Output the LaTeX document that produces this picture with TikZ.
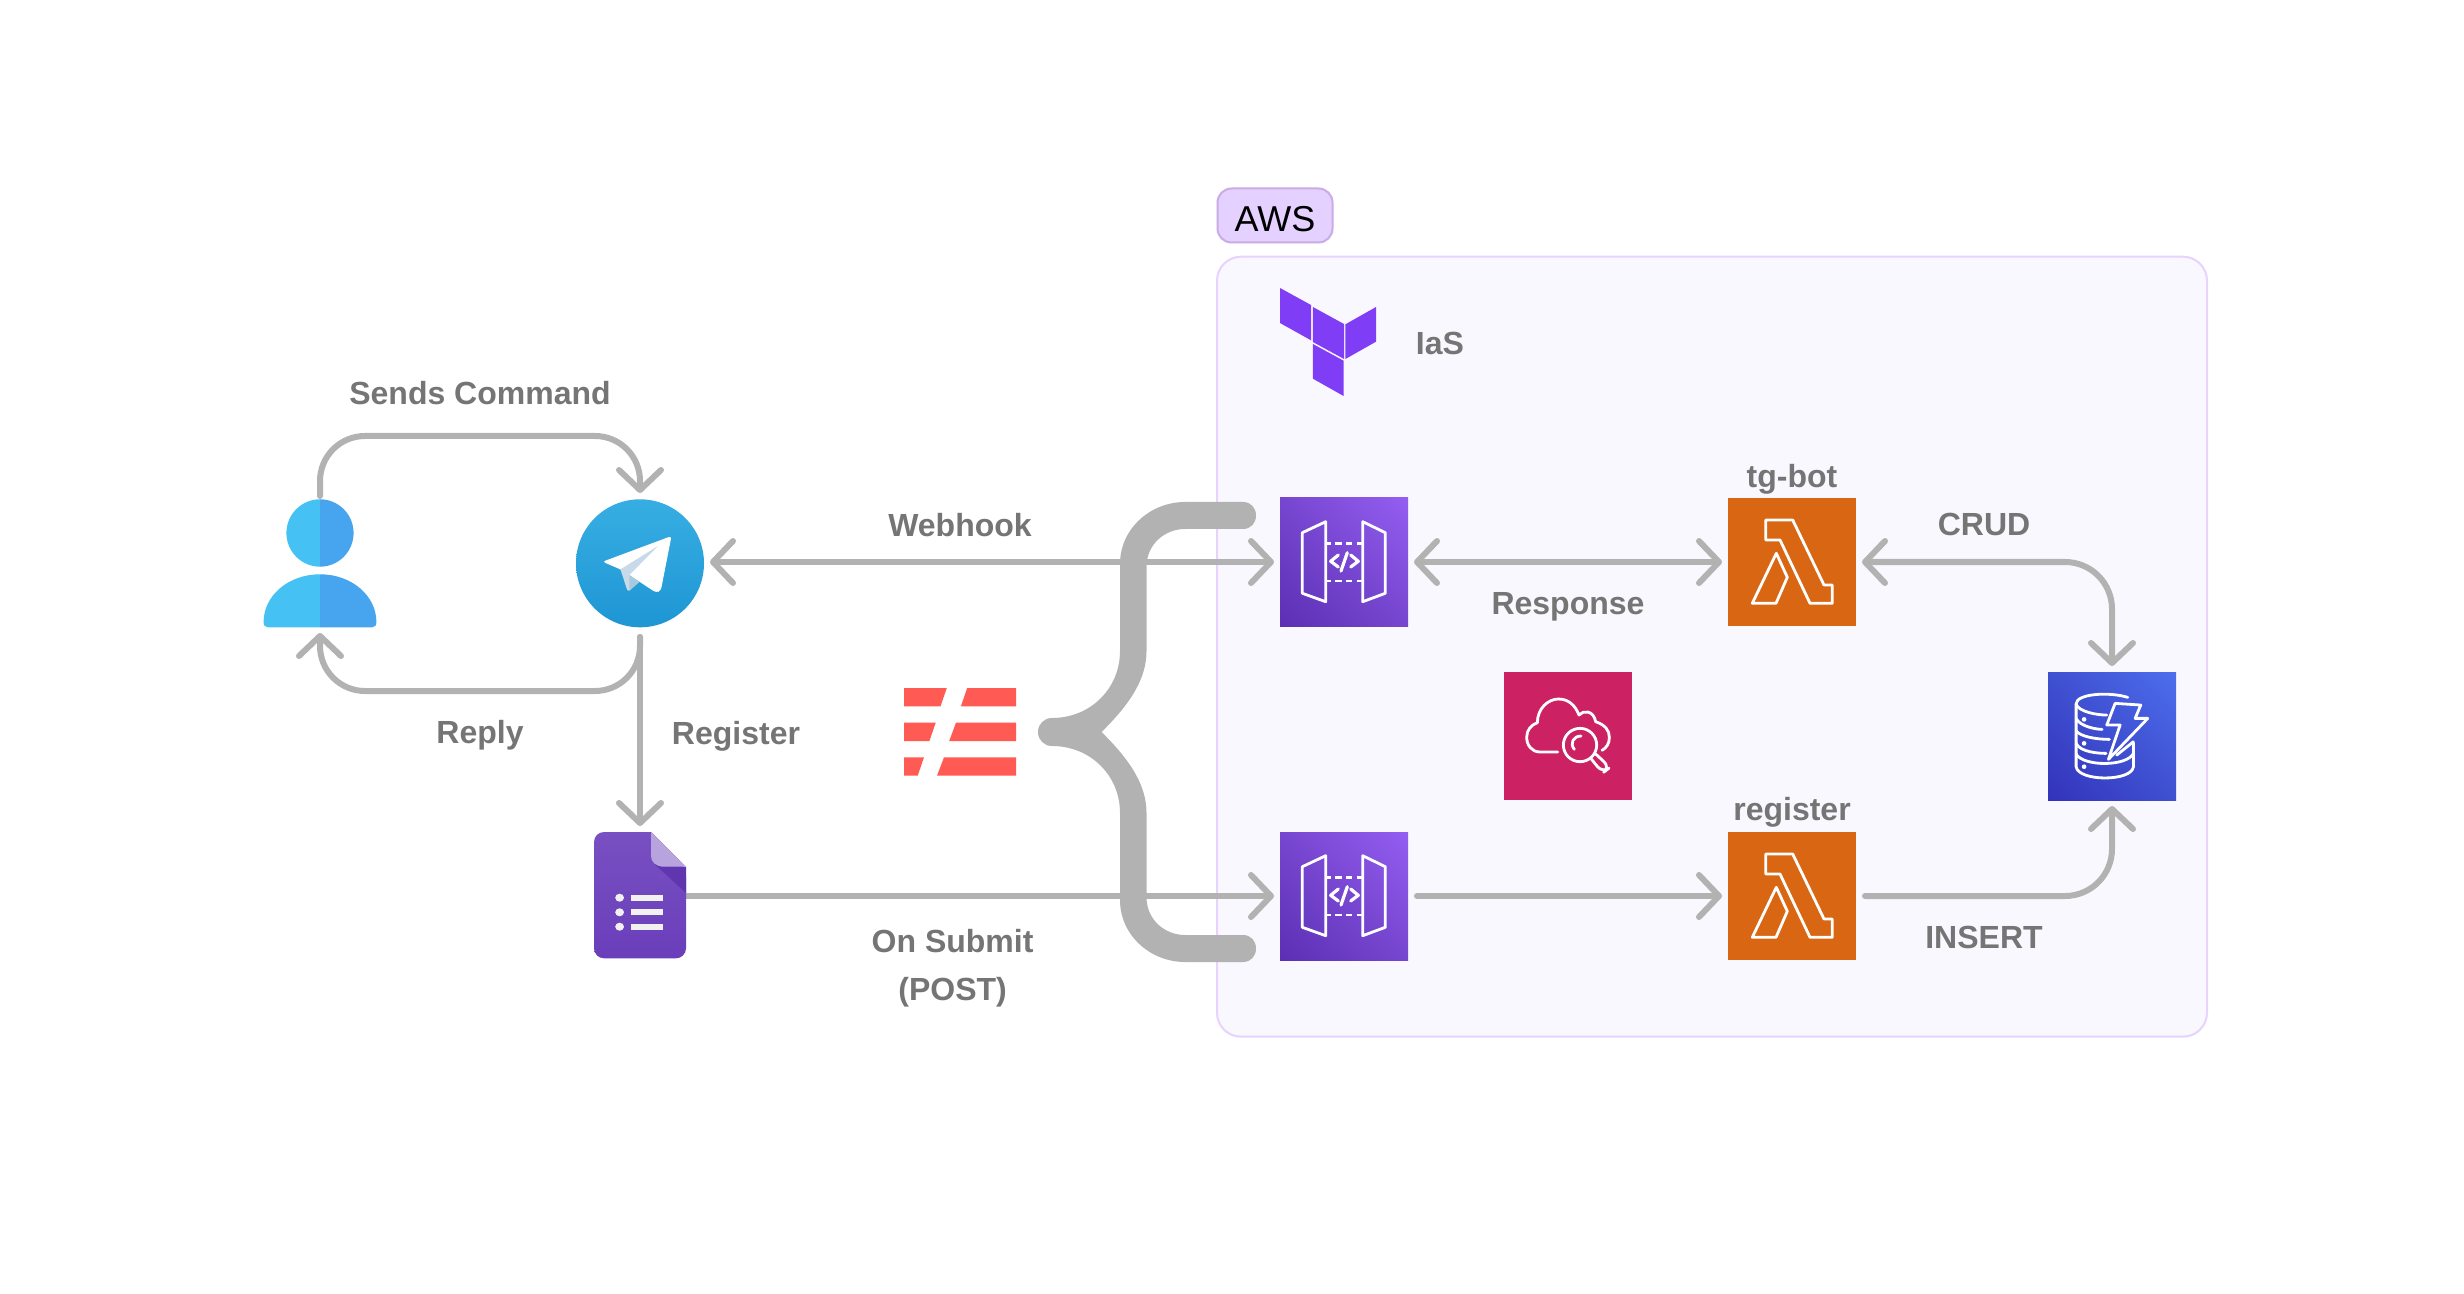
\documentclass[tikz,border=0pt]{standalone}
\usepackage{fontspec}
\setmainfont{Liberation Sans}
\usetikzlibrary{arrows.meta,shadings}
\definecolor{connc}{HTML}{B2B2B2}
\definecolor{lblc}{HTML}{757575}
\definecolor{tfc}{HTML}{7F3DF5}
\definecolor{awsfill}{HTML}{FAF8FF}
\definecolor{awsedge}{HTML}{E8D3FF}
\definecolor{tagfill}{HTML}{E5D1FF}
\definecolor{tagedge}{HTML}{C9ABE6}
\definecolor{gwdark}{HTML}{5B2FB4}
\definecolor{gwmid}{HTML}{7746CF}
\definecolor{gwlight}{HTML}{945EF2}
\definecolor{dydark}{HTML}{3333BB}
\definecolor{dymid}{HTML}{3F50D0}
\definecolor{dylight}{HTML}{4C6EEE}
\definecolor{lamc}{HTML}{D86613}
\definecolor{cwc}{HTML}{CC2264}
\definecolor{redp}{HTML}{FF5A54}
\definecolor{personl}{HTML}{45C1F4}
\definecolor{personr}{HTML}{47A4EE}
\definecolor{teletop}{HTML}{37AEE2}
\definecolor{telebot}{HTML}{1E96D4}
\definecolor{planea}{HTML}{C8DAEA}
\definecolor{planeb}{HTML}{A9C9DD}
\definecolor{formtop}{HTML}{7850C2}
\definecolor{formbot}{HTML}{6A3EBA}
\definecolor{formshadow}{HTML}{6036AE}
\definecolor{formfold}{HTML}{B7A3DE}
\definecolor{formline}{HTML}{F1F1F1}
\tikzset{
  conn/.style={draw=connc,line width=3pt,line cap=round,line join=round},
  toend/.style={conn,-{Straight Barb[length=10pt,width=21pt,line width=3pt,round]}},
  both/.style={conn,{Straight Barb[length=10pt,width=21pt,line width=3pt,round]}-{Straight Barb[length=10pt,width=21pt,line width=3pt,round]}},
  lbl/.style={anchor=base,inner sep=0pt,text=lblc,font=\bfseries\fontsize{16}{19}\selectfont},
  iconbox/.style={rectangle,minimum width=64pt,minimum height=64pt,inner sep=0pt,outer sep=3pt},
  glyph/.style={draw=white,line width=1.4pt,line join=round,line cap=round},
  gwbox/.style={iconbox,shade,lower left=gwdark,upper left=gwmid,lower right=gwmid,upper right=gwlight},
  lambdaglyph/.pic={
    \begin{scope}[shift={(-64,-64)}]
      \draw[glyph] (37.7,22) -- (64.7,22) -- (96,87) -- (104.3,87) -- (104.3,105.3) -- (82,105.3) -- (52,42) -- (37.7,42) -- cycle;
      \draw[glyph] (48.3,55.3) -- (59.3,79.3) -- (48,105.3) -- (24.3,105.3) -- cycle;
    \end{scope}
  },
  gwglyph/.pic={
    \begin{scope}[shift={(-64,-64)}]
      \draw[glyph] (45.7,23.7) -- (22.3,34.7) -- (22.3,95.3) -- (45.7,103.7) -- cycle;
      \draw[glyph] (82.7,23.7) -- (105.3,34.7) -- (105.3,95.3) -- (82.7,103.7) -- cycle;
      \foreach \yy in {45.3,83}{
        \draw[glyph,line cap=butt] (45.7,\yy) -- (50.7,\yy) (55.3,\yy) -- (61.7,\yy) (66,\yy) -- (71.7,\yy) (76.7,\yy) -- (82.7,\yy);
      }
      \draw[glyph,line width=1.6pt] (58.3,57) -- (50.7,63.3) -- (58.3,69);
      \draw[glyph,line width=1.6pt] (70.7,57) -- (78.3,63.3) -- (70.7,69);
      \draw[glyph,line width=1.6pt] (67.3,54.7) -- (61,73);
    \end{scope}
  }
}
\begin{document}
\begin{tikzpicture}[x=0.5pt,y=-0.5pt]
\useasboundingbox (0,0) rectangle (2464,1294);
\fill[white] (0,0) rectangle (2464,1294);

% AWS area
\node[draw=awsedge,fill=awsfill,line width=1pt,rounded corners=12pt,minimum width=495pt,minimum height=390pt,inner sep=0pt] (awsarea) at (1712,646.7) {};
\node[draw=tagedge,fill=tagfill,line width=1pt,rounded corners=7pt,minimum width=57.5pt,minimum height=27pt,inner sep=0pt,text height=18pt,text depth=1.8pt,font=\fontsize{18}{20}\selectfont] (awstag) at (1275,215.5) {AWS};

% nodes used as anchors for the connectors
\node[iconbox] (user) at (320,563) {};
\node[circle,minimum size=64pt,inner sep=0pt,outer sep=3pt] (tele) at (640,563) {};
\node[rectangle,minimum width=46pt,minimum height=63pt,inner sep=0pt,outer sep=3pt] (form) at (640,895) {};
\node[gwbox] (gwa) at (1344,562) {};
\node[gwbox] (gwb) at (1344,896) {};
\node[iconbox,fill=lamc] (lama) at (1792,562) {};
\node[iconbox,fill=lamc] (lamb) at (1792,896) {};
\node[iconbox,fill=cwc] (cw) at (1568,736) {};
\node[iconbox,shade,lower left=dydark,upper left=dymid,lower right=dymid,upper right=dylight] (dyn) at (2112,736) {};
\coordinate (topy) at (0,436);
\coordinate (boty) at (0,691);

% connectors
\draw[toend,rounded corners=22.5pt] ([yshift=-1.5pt]user.north) -- (user.north |- topy) -- (tele.north |- topy) -- (tele.north);
\draw[toend,rounded corners=22.5pt] ([yshift=-2pt]tele.south) -- (tele.south |- boty) -- (user.south |- boty) -- (user.south);
\draw[toend] ([yshift=-2pt]tele.south) -- (form.north);
\draw[both] (tele.east |- gwa.west) -- (gwa.west);
\draw[both] (gwa.east) -- (lama.west);
\draw[toend] ([xshift=-3.5pt]form.east |- gwb.west) -- (gwb.west);
\draw[toend] ([xshift=1.5pt]gwb.east) -- (lamb.west);
\draw[both,rounded corners=23.5pt] (lama.east) -- (dyn.north |- lama.east) -- (dyn.north);
\draw[toend,rounded corners=23.5pt] ([xshift=1.5pt]lamb.east) -- (dyn.south |- lamb.east) -- (dyn.south);

% brace
\fill[connc] (1052,718) .. controls (1090,718) and (1120,689) .. (1120,651) -- (1120,564)
  .. controls (1120,529) and (1150,502) .. (1185,502) -- (1243,502)
  .. controls (1251,502) and (1256,508) .. (1256,515.5) .. controls (1256,523) and (1251,529) .. (1243,529)
  -- (1185,529) .. controls (1165,529) and (1146.5,544) .. (1146.5,567) -- (1146.5,651)
  .. controls (1146.5,679) and (1130,704) .. (1101.5,732)
  .. controls (1130,760) and (1146.5,785) .. (1146.5,813) -- (1146.5,897)
  .. controls (1146.5,920) and (1165,935) .. (1185,935) -- (1243,935)
  .. controls (1251,935) and (1256,941) .. (1256,948.5) .. controls (1256,956) and (1251,962) .. (1243,962)
  -- (1185,962) .. controls (1150,962) and (1120,935) .. (1120,900) -- (1120,813)
  .. controls (1120,775) and (1090,746) .. (1052,746)
  .. controls (1044,746) and (1038,740) .. (1038,732) .. controls (1038,724) and (1044,718) .. (1052,718) -- cycle;

% user
\fill[personl] (320,499.3) arc[start angle=90,end angle=270,x radius=33.6,y radius=-33.7] -- cycle;
\fill[personr] (320,499.3) arc[start angle=90,end angle=-90,x radius=33.6,y radius=-33.7] -- cycle;
\fill[personl] (320,574.3) .. controls (288,574.3) and (263.6,596) .. (263.6,622) .. controls (263.6,625.5) and (265,627.3) .. (268,627.3) -- (320,627.3) -- cycle;
\fill[personr] (320,574.3) .. controls (352,574.3) and (376.4,596) .. (376.4,622) .. controls (376.4,625.5) and (375,627.3) .. (372,627.3) -- (320,627.3) -- cycle;

% telegram
\shade[top color=teletop,bottom color=telebot] (640,563.3) circle[radius=64];
\begin{scope}[shift={(240,360)},x=0.1786pt,y=-0.1667pt]
  \fill[white,rounded corners=1.5pt] (1015,605) -- (1208,528) -- (1178,692) -- (1165,698) -- (1090,645) -- (1065,628) -- cycle;
  \fill[planea] (1065,628) -- (1170,558) -- (1090,645) -- (1118,665) -- (1090,692) -- (1084,690) -- cycle;
  \fill[planeb] (1090,645) -- (1118,665) -- (1090,692) -- cycle;
\end{scope}

% form
\shade[top color=formtop,bottom color=formbot]
  {[rounded corners=5pt] (651,832) -- (594,832) -- (594,958.3) -- (686,958.3) -- (686,866.7)} -- cycle;
\fill[formshadow] (654.5,864) -- (686,893) -- (686,866.7) -- (664,866.7) -- cycle;
\fill[formfold] (651,832) -- (686,866.7) -- (664,866.7) .. controls (656,866.7) and (651,862) .. (651,856) -- cycle;
\foreach \yy in {897.7,912.3,926.7}{
  \fill[formline] (619.6,\yy) ellipse[x radius=4.4,y radius=4];
  \fill[formline] (631,\yy-3) rectangle (663,\yy+3);
}

% stripes logo
\fill[redp] (904.2,688) -- (946.8,688) -- (940.5,706.3) -- (904.2,706.3) -- cycle;
\fill[redp] (967.2,688) -- (1016,688) -- (1016,706.3) -- (960.9,706.3) -- cycle;
\fill[redp] (904.2,722.7) -- (935.7,722.7) -- (929.4,741) -- (904.2,741) -- cycle;
\fill[redp] (956,722.7) -- (1016,722.7) -- (1016,741) -- (949.2,741) -- cycle;
\fill[redp] (904.2,757.3) -- (924,757.3) -- (917.7,775.7) -- (904.2,775.7) -- cycle;
\fill[redp] (944,757.3) -- (1016,757.3) -- (1016,775.7) -- (937,775.7) -- cycle;

% terraform
\fill[tfc] (1280,288) -- (1311,305) -- (1311,340.3) -- (1280,323) -- cycle;
\fill[tfc] (1312.9,307) -- (1344,324) -- (1344,359) -- (1312.9,342) -- cycle;
\fill[tfc] (1345.4,324.3) -- (1376,307) -- (1376,341.7) -- (1345.4,359) -- cycle;
\fill[tfc] (1312.9,344) -- (1343.6,360.7) -- (1343.6,396) -- (1312.9,378.7) -- cycle;

% glyphs
\pic at (gwa.center) {gwglyph};
\pic at (gwb.center) {gwglyph};
\pic at (lama.center) {lambdaglyph};
\pic at (lamb.center) {lambdaglyph};

% cloudwatch glyph
\begin{scope}[shift={(1480,650)},x=0.1667pt,y=-0.1667pt]
  \draw[glyph] (233,306) -- (180,306) .. controls (155,306) and (140,285) .. (140,262) .. controls (140,240) and (153,225) .. (172,218)
    .. controls (172,175) and (205,147) .. (235,147) .. controls (265,147) and (285,165) .. (297,195)
    .. controls (310,180) and (340,180) .. (347,215) .. controls (375,225) and (388,240) .. (388,262) .. controls (388,280) and (380,293) .. (366,301);
  \draw[glyph] (300,285) circle[radius=50];
  \draw[glyph] (283,298) .. controls (268,280) and (280,258) .. (303,258);
  \draw[glyph,rounded corners=4pt] (333,326) -- (368,369) -- (390,352) -- (347,312);
\end{scope}

% dynamodb glyph
\begin{scope}[shift={(1700,470)},x=0.1667pt,y=-0.1667pt]
  \draw[glyph] (1283,682) .. controls (1230,665) and (1128,670) .. (1128,702) -- (1128,890)
     .. controls (1135,935) and (1295,935) .. (1300,890) -- (1300,818);
  \draw[glyph] (1128,702) .. controls (1135,725) and (1190,735) .. (1220,735);
  \draw[glyph] (1128,745) .. controls (1140,770) and (1190,778) .. (1206,778);
  \draw[glyph] (1128,782) .. controls (1140,800) and (1190,808) .. (1228,808);
  \draw[glyph] (1128,820) .. controls (1140,845) and (1190,850) .. (1218,850);
  \draw[glyph] (1128,852) .. controls (1150,890) and (1280,890) .. (1300,850);
  \fill[white] (1152,748) circle[radius=7] (1152,820) circle[radius=7] (1152,890) circle[radius=7];
  \draw[glyph] (1245,700) -- (1322,705) -- (1305,745) -- (1343,745) -- (1225,868) -- (1260,765) -- (1220,765) -- cycle;
  \draw[glyph] (1300,815) -- (1250,855);
\end{scope}

% labels
\node[lbl] (lblsends) at (480,404.5) {Sends Command};
\node[lbl] (lblreply) at (480,743) {Reply};
\node[lbl] (lblreg) at (736,744) {Register};
\node[lbl] (lblhook) at (960,537) {Webhook};
\node[lbl] (lblsubmit) at (952.6,952) {On Submit};
\node[lbl] (lblpost) at (952.6,1000) {(POST)};
\node[lbl] (lblias) at (1440,355) {IaS};
\node[lbl] (lblresp) at (1568,614) {Response};
\node[lbl] (lbltg) at (1792,487.5) {tg-bot};
\node[lbl] (lblregn) at (1792,820) {register};
\node[lbl] (lblcrud) at (1984,535.5) {CRUD};
\node[lbl] (lblins) at (1984,948) {INSERT};
\end{tikzpicture}
\end{document}
